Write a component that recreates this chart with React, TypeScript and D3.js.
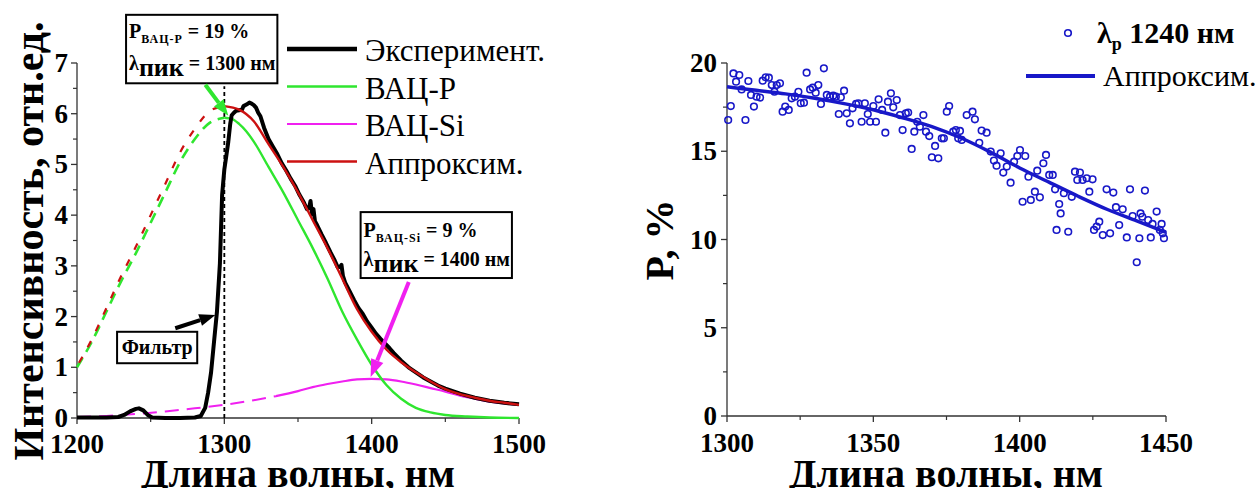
import * as d3 from 'd3';
import React from 'react';

// ---- left chart: spectrum decomposition ----
const experiment: [number, number][] = [
  [1200, 0.01], [1210, 0.01], [1220, 0.01], [1228, 0.02], [1232, 0.06], [1236, 0.13], [1240, 0.18],
  [1242, 0.19], [1245, 0.15], [1248, 0.06], [1251, 0.01], [1260, 0.0], [1270, 0.0], [1280, 0.01],
  [1284, 0.04], [1287, 0.2], [1289, 0.5], [1291, 0.9], [1293, 1.5], [1295, 2.1], [1297, 3.05],
  [1298.5, 4.4], [1300, 4.9], [1301.5, 5.2], [1302.7, 5.45], [1304, 5.8], [1305, 5.97], [1306.5, 6.02],
  [1308, 6.06], [1310, 6.07], [1312, 6.08], [1313, 6.15], [1315, 6.18], [1317, 6.22], [1318.5, 6.2],
  [1320, 6.17], [1321.5, 6.12], [1323, 6.02], [1324.5, 5.95], [1327, 5.72], [1330, 5.5], [1333, 5.35],
  [1336, 5.2], [1339, 5.02], [1342, 4.88], [1345, 4.72], [1348, 4.58], [1351, 4.4], [1354, 4.25],
  [1356, 4.12], [1357.5, 4.14], [1358.5, 4.28], [1359.5, 4.02], [1360.5, 4.12], [1361.5, 3.88], [1363, 3.8],
  [1366, 3.62], [1369, 3.45], [1372, 3.27], [1375, 3.1], [1377, 2.97], [1378.5, 2.98], [1379.5, 3.02],
  [1380.5, 2.8], [1382, 2.67], [1385, 2.5], [1388, 2.33], [1391, 2.17], [1394, 2.05], [1397, 1.9],
  [1400, 1.78], [1403, 1.66], [1406, 1.56], [1409, 1.47], [1412, 1.38], [1415, 1.28], [1420, 1.13],
  [1425, 1.0], [1430, 0.9], [1435, 0.8], [1440, 0.72], [1445, 0.64], [1450, 0.58], [1460, 0.48],
  [1470, 0.4], [1480, 0.34], [1490, 0.3], [1500, 0.27],
];

const greenDashed: [number, number][] = [
  [1200, 1.0], [1210, 1.5], [1220, 2.1], [1230, 2.7], [1240, 3.25], [1250, 3.85], [1260, 4.45],
  [1270, 5.05], [1280, 5.5], [1290, 5.82], [1300, 5.92],
];
const greenSolid: [number, number][] = [
  [1300, 5.92], [1305, 5.9], [1310, 5.8], [1315, 5.65], [1320, 5.45], [1330, 4.95], [1340, 4.45],
  [1350, 3.9], [1360, 3.35], [1370, 2.75], [1380, 2.1], [1390, 1.55], [1400, 1.05], [1410, 0.65],
  [1420, 0.38], [1430, 0.2], [1440, 0.11], [1450, 0.06], [1465, 0.03], [1480, 0.01], [1500, 0.0],
];

const redDashed: [number, number][] = [
  [1200, 1.02], [1210, 1.55], [1220, 2.17], [1230, 2.8], [1240, 3.38], [1250, 4.0], [1260, 4.62],
  [1270, 5.24], [1280, 5.7], [1290, 6.05], [1300, 6.15],
];
const redSolid: [number, number][] = [
  [1300, 6.15], [1310, 6.08], [1320, 5.85], [1330, 5.4], [1340, 4.95], [1350, 4.45], [1360, 3.9],
  [1370, 3.35], [1380, 2.75], [1390, 2.15], [1400, 1.7], [1410, 1.35], [1420, 1.1], [1430, 0.9],
  [1440, 0.72], [1450, 0.57], [1460, 0.47], [1470, 0.4], [1480, 0.34], [1490, 0.3], [1500, 0.26],
];

const magentaDashed: [number, number][] = [
  [1200, 0.02], [1220, 0.04], [1240, 0.08], [1260, 0.13], [1280, 0.19], [1300, 0.26], [1320, 0.35],
  [1335, 0.43],
];
const magentaSolid: [number, number][] = [
  [1335, 0.43], [1350, 0.53], [1360, 0.61], [1370, 0.67], [1380, 0.72], [1390, 0.76], [1400, 0.77],
  [1410, 0.76], [1420, 0.72], [1430, 0.66], [1440, 0.59], [1450, 0.52], [1460, 0.44], [1470, 0.38],
  [1480, 0.32], [1490, 0.29], [1500, 0.26],
];

const leftXTicks = [1200, 1300, 1400, 1500];
const leftXMinor = [1250, 1350, 1450];
const leftYTicks = [0, 1, 2, 3, 4, 5, 6, 7];
const leftYMinor = [0.5, 1.5, 2.5, 3.5, 4.5, 5.5, 6.5];
const leftLegend = ['Эксперимент.', 'ВАЦ-Р', 'ВАЦ-Si', 'Аппроксим.'];

// ---- right chart: P vs wavelength ----
const pPoints: [number, number][] = [
  [1300.4, 16.77], [1301.3, 17.56], [1302.2, 19.41], [1303.1, 18.94], [1304.2, 19.32], [1305, 18.5],
  [1306.3, 16.77], [1307.3, 18.98], [1308.2, 18.19], [1309.2, 17.53], [1310.1, 18.09], [1311.3, 18.04],
  [1312.2, 19.0], [1313.2, 19.19], [1314.3, 19.17], [1315.3, 18.75], [1316.2, 18.37], [1317, 18.75],
  [1318.1, 18.85], [1319, 17.24], [1319.9, 17.53], [1321.1, 17.34], [1322.1, 18.0], [1323.2, 18.09],
  [1324.4, 18.37], [1325.2, 17.72], [1326.3, 17.75], [1327.2, 19.45], [1328.4, 18.5], [1329.3, 18.6],
  [1330.3, 18.32], [1331.2, 18.75], [1332.1, 17.68], [1333.1, 19.7], [1334.1, 18.19], [1335.2, 18.09],
  [1336.3, 18.15], [1337.2, 18.09], [1338.2, 17.11], [1338.9, 18.06], [1340, 18.43], [1340.9, 17.15],
  [1342, 16.58], [1342.9, 17.43], [1344.1, 17.68], [1344.9, 17.72], [1346, 16.67], [1347.1, 17.72],
  [1348.1, 17.11], [1348.9, 16.67], [1350, 17.56], [1350.9, 16.67], [1351.8, 17.94], [1353, 17.34],
  [1354.1, 16.05], [1355, 17.81], [1356, 18.28], [1356.8, 17.49], [1358, 17.9], [1359.1, 17.05],
  [1360, 16.2], [1361.1, 17.15], [1361.9, 17.19], [1363.1, 15.13], [1364, 16.11], [1365, 16.67],
  [1365.9, 16.39], [1367.1, 17.05], [1368, 16.11], [1369.1, 15.86], [1370, 14.66], [1371.1, 15.3],
  [1372.2, 14.6], [1373.4, 15.73], [1374.1, 15.73], [1375.1, 17.24], [1375.9, 17.56], [1377.3, 16.11],
  [1378.2, 16.2], [1379, 15.73], [1379.6, 16.15], [1380.2, 15.64], [1381.9, 17.05], [1383.9, 17.24],
  [1384.7, 16.81], [1386.2, 15.48], [1387, 16.17], [1388.7, 16.05], [1390.1, 14.98], [1391.2, 14.47],
  [1392.1, 14.18], [1393.5, 14.88], [1394.4, 13.79], [1395.6, 14.13], [1396.9, 13.22], [1398.1, 14.41],
  [1399.2, 14.73], [1400.1, 15.07], [1401, 12.14], [1401.9, 14.73], [1403, 13.56], [1403.8, 12.24],
  [1405.2, 12.71], [1406, 13.9], [1406.9, 12.39], [1408.1, 14.32], [1409, 14.79], [1410.1, 13.66],
  [1411.3, 13.66], [1412.1, 12.84], [1412.6, 10.54], [1413.5, 12.01], [1414, 11.48], [1415.1, 12.62],
  [1416.6, 10.44], [1417.8, 12.42], [1418.9, 13.84], [1419.7, 13.37], [1420.6, 13.79], [1421.5, 13.37],
  [1422.9, 13.47], [1423.8, 12.71], [1424.9, 13.41], [1425.4, 10.54], [1426.3, 10.73], [1427.2, 11.01],
  [1428.4, 10.25], [1429.7, 12.84], [1430.9, 10.35], [1432, 12.66], [1432.9, 11.83], [1434, 10.82],
  [1435.2, 11.71], [1436.6, 10.12], [1437.7, 12.84], [1438.6, 11.33], [1440, 8.71], [1440.9, 10.07],
  [1441.3, 11.48], [1441.9, 11.29], [1442.8, 12.77], [1443.9, 11.1], [1444.8, 10.12], [1445.4, 10.88],
  [1446.8, 11.58], [1447.9, 10.54], [1448.5, 10.88], [1448.9, 10.35], [1449.3, 10.07],
];

const pFit: [number, number][] = [
  [1300, 18.65], [1310, 18.45], [1320, 18.25], [1330, 18.0], [1340, 17.7], [1350, 17.35], [1360, 16.9],
  [1370, 16.4], [1380, 15.75], [1390, 14.95], [1400, 14.05], [1410, 13.25], [1420, 12.45], [1430, 11.7],
  [1440, 11.05], [1450, 10.4],
];

const rightXTicks = [1300, 1350, 1400, 1450];
const rightXMinor = [1325, 1375, 1425];
const rightYTicks = [0, 5, 10, 15, 20];
const rightYMinor = [2.5, 7.5, 12.5, 17.5];

const GREEN = '#2fe62f';
const MAGENTA = '#f020f0';
const RED = '#cc1111';
const BLUE = '#1818c8';

const css = `
  .fig text, .fig tspan { font-family: 'Liberation Serif', 'Times New Roman', monospace !important; }
`;

function Arrow({ x1, y1, x2, y2, color, w, head }: any) {
  const a = Math.atan2(y2 - y1, x2 - x1);
  const bx = x2 - head * 1.6 * Math.cos(a);
  const by = y2 - head * 1.6 * Math.sin(a);
  const px = Math.cos(a + Math.PI / 2) * head * 0.6;
  const py = Math.sin(a + Math.PI / 2) * head * 0.6;
  return (
    <g>
      <line x1={x1} y1={y1} x2={bx} y2={by} stroke={color} strokeWidth={w} />
      <polygon points={`${x2},${y2} ${bx + px},${by + py} ${bx - px},${by - py}`} fill={color} />
    </g>
  );
}

export default function App() {
  const xL = d3.scaleLinear().domain([1200, 1500]).range([77, 519]);
  const yL = d3.scaleLinear().domain([0, 7]).range([418, 63]);
  const xR = d3.scaleLinear().domain([1300, 1450]).range([727, 1166]);
  const yR = d3.scaleLinear().domain([0, 20]).range([416, 63]);

  const lineL = d3.line<[number, number]>().x(d => xL(d[0])).y(d => yL(d[1])).curve(d3.curveMonotoneX);
  const lineExp = d3.line<[number, number]>().x(d => xL(d[0])).y(d => yL(d[1])).curve(d3.curveLinear);
  const lineR = d3.line<[number, number]>().x(d => xR(d[0])).y(d => yR(d[1])).curve(d3.curveMonotoneX);

  const axisColor = '#333';

  return (
    <svg className="fig" width={1255} height={488} style={{ position: 'absolute', left: 0, top: 0, background: '#fff' }}>
      <style>{css}</style>
      {/* ===== LEFT CHART ===== */}
      <g>
        <line x1={xL(1200)} x2={xL(1500)} y1={yL(0)} y2={yL(0)} stroke={axisColor} strokeWidth={1.3} />
        <line x1={xL(1200)} x2={xL(1200)} y1={yL(0)} y2={yL(7)} stroke={axisColor} strokeWidth={1.3} />
        {leftXTicks.map(t => (
          <g key={'lx' + t}>
            <line x1={xL(t)} x2={xL(t)} y1={yL(0)} y2={yL(0) + 6} stroke={axisColor} strokeWidth={1.3} />
            <text x={xL(t)} y={453} textAnchor="middle" fontWeight={700} fontSize={27}>{t}</text>
          </g>
        ))}
        {leftXMinor.map(t => (
          <line key={'lxm' + t} x1={xL(t)} x2={xL(t)} y1={yL(0)} y2={yL(0) + 4} stroke={axisColor} strokeWidth={1.2} />
        ))}
        {leftYTicks.map(t => (
          <g key={'ly' + t}>
            <line x1={xL(1200) - 6} x2={xL(1200)} y1={yL(t)} y2={yL(t)} stroke={axisColor} strokeWidth={1.3} />
            <text x={68} y={yL(t) + 9} textAnchor="end" fontWeight={700} fontSize={27}>{t}</text>
          </g>
        ))}
        {leftYMinor.map(t => (
          <line key={'lym' + t} x1={xL(1200) - 4} x2={xL(1200)} y1={yL(t)} y2={yL(t)} stroke={axisColor} strokeWidth={1.2} />
        ))}

        <line x1={xL(1300)} x2={xL(1300)} y1={yL(0)} y2={yL(6.54)} stroke="#000" strokeWidth={1.8} strokeDasharray="4,3" />

        <path d={lineL(magentaDashed) || ''} fill="none" stroke={MAGENTA} strokeWidth={2} strokeDasharray="14,8" />
        <path d={lineL(magentaSolid) || ''} fill="none" stroke={MAGENTA} strokeWidth={2.2} />
        <path d={lineL(greenDashed) || ''} fill="none" stroke={GREEN} strokeWidth={2.6} strokeDasharray="11,7" />
        <path d={lineL(redDashed) || ''} fill="none" stroke={RED} strokeWidth={2.2} strokeDasharray="7,11" strokeDashoffset={-4} />
        <path d={lineL(greenSolid) || ''} fill="none" stroke={GREEN} strokeWidth={2.4} />
        <path d={lineExp(experiment) || ''} fill="none" stroke="#000" strokeWidth={4} strokeLinejoin="round" />
        <path d={lineL(redSolid) || ''} fill="none" stroke={RED} strokeWidth={2.4} />

        {leftLegend.map((name, i) => (
          <g key={name}>
            <line x1={287} x2={357} y1={49 + i * 37.5} y2={49 + i * 37.5}
              stroke={['#000', GREEN, MAGENTA, RED][i]} strokeWidth={[4.5, 2.4, 2, 2.4][i]} />
            <text x={365} y={61 + i * 37.5} fontSize={31}>{name}</text>
          </g>
        ))}

        <rect x={xL(1233.3)} y={yL(7.95)} width={xL(1336) - xL(1233.3)} height={yL(6.6) - yL(7.95)}
          fill="#fff" stroke="#000" strokeWidth={2} />
        <text x={xL(1233.3) + 3} y={38} fontWeight={700} fontSize={20}>
          P<tspan fontSize={12} dy={5} letterSpacing={1}>ВАЦ-Р</tspan><tspan dy={-5}> = 19 %</tspan>
        </text>
        <text x={xL(1233.3) + 3} y={70} fontWeight={700} fontSize={20}>
          λ<tspan fontSize={26} dy={6}>пик</tspan><tspan dy={-6}> = 1300 нм</tspan>
        </text>
        <Arrow x1={xL(1287.1)} y1={yL(6.57)} x2={xL(1302.7)} y2={yL(5.96)} color={GREEN} w={4} head={10} />

        <rect x={xL(1392.5)} y={yL(4.06)} width={xL(1495.2) - xL(1392.5)} height={yL(2.76) - yL(4.06)}
          fill="#fff" stroke="#000" strokeWidth={2} />
        <text x={xL(1392.5) + 3} y={237} fontWeight={700} fontSize={20}>
          P<tspan fontSize={12} dy={5} letterSpacing={1}>ВАЦ-Si</tspan><tspan dy={-5}> = 9 %</tspan>
        </text>
        <text x={xL(1392.5) + 3} y={266} fontWeight={700} fontSize={20}>
          λ<tspan fontSize={26} dy={6}>пик</tspan><tspan dy={-6}> = 1400 нм</tspan>
        </text>
        <Arrow x1={xL(1425.2)} y1={yL(2.68)} x2={xL(1399.3)} y2={yL(0.81)} color={MAGENTA} w={4} head={11} />

        <rect x={xL(1227.2)} y={yL(1.7)} width={xL(1281.6) - xL(1227.2)} height={yL(1.08) - yL(1.7)}
          fill="#fff" stroke="#000" strokeWidth={2} />
        <text x={(xL(1227.2) + xL(1281.6)) / 2} y={354} textAnchor="middle" fontWeight={700} fontSize={20}>Фильтр</text>
        <Arrow x1={xL(1266.7)} y1={yL(1.77)} x2={xL(1293.9)} y2={yL(2.03)} color="#000" w={4} head={10} />

        <text x={298} y={487} textAnchor="middle" fontWeight={700} fontSize={40}>Длина волны, нм</text>
        <text transform="translate(43,241) rotate(-90)" textAnchor="middle" fontWeight={700} fontSize={42}>
          Интенсивность, отн.ед.
        </text>
      </g>

      {/* ===== RIGHT CHART ===== */}
      <g>
        <line x1={xR(1300)} x2={xR(1450)} y1={yR(0)} y2={yR(0)} stroke={axisColor} strokeWidth={1.3} />
        <line x1={xR(1300)} x2={xR(1300)} y1={yR(0)} y2={yR(20)} stroke={axisColor} strokeWidth={1.3} />
        {rightXTicks.map(t => (
          <g key={'rx' + t}>
            <line x1={xR(t)} x2={xR(t)} y1={yR(0)} y2={yR(0) + 6} stroke={axisColor} strokeWidth={1.3} />
            <text x={xR(t)} y={452} textAnchor="middle" fontWeight={700} fontSize={27}>{t}</text>
          </g>
        ))}
        {rightXMinor.map(t => (
          <line key={'rxm' + t} x1={xR(t)} x2={xR(t)} y1={yR(0)} y2={yR(0) + 4} stroke={axisColor} strokeWidth={1.2} />
        ))}
        {rightYTicks.map(t => (
          <g key={'ry' + t}>
            <line x1={xR(1300) - 6} x2={xR(1300)} y1={yR(t)} y2={yR(t)} stroke={axisColor} strokeWidth={1.3} />
            <text x={717} y={yR(t) + 9} textAnchor="end" fontWeight={700} fontSize={27}>{t}</text>
          </g>
        ))}
        {rightYMinor.map(t => (
          <line key={'rym' + t} x1={xR(1300) - 4} x2={xR(1300)} y1={yR(t)} y2={yR(t)} stroke={axisColor} strokeWidth={1.2} />
        ))}

        {pPoints.map((d, i) => (
          <circle key={i} cx={xR(d[0])} cy={yR(d[1])} r={3.3} fill="none" stroke={BLUE} strokeWidth={1.6} />
        ))}
        <path d={lineR(pFit) || ''} fill="none" stroke={BLUE} strokeWidth={3.5} />

        <circle cx={1068} cy={33} r={3.3} fill="none" stroke={BLUE} strokeWidth={1.6} />
        <text x={1097} y={43} fontWeight={700} fontSize={30}>
          λ<tspan fontSize={18} dy={7}>p</tspan><tspan dy={-7}> 1240 нм</tspan>
        </text>
        <line x1={1026} x2={1095} y1={76} y2={76} stroke={BLUE} strokeWidth={4} />
        <text x={1103} y={86} fontSize={30}>Аппроксим.</text>

        <text x={946} y={487} textAnchor="middle" fontWeight={700} fontSize={40}>Длина волны, нм</text>
        <text transform="translate(673,240) rotate(-90)" textAnchor="middle" fontWeight={700} fontSize={40}>P, %</text>
      </g>
    </svg>
  );
}
